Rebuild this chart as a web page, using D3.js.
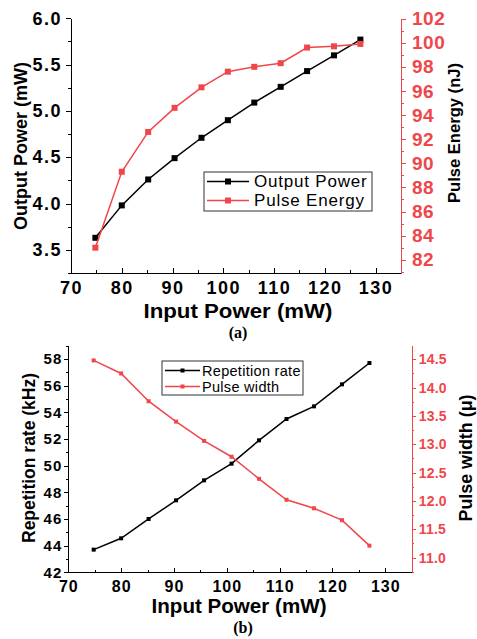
<!DOCTYPE html>
<head>
  <meta charset="utf-8">
  <style>
    body { margin:0; background:#fff; }
    svg { font-family: "Liberation Sans", Arial, sans-serif; }
    .axis path, .axis line { shape-rendering: crispEdges; }
    .tick text { font-weight: bold; }
    .lbl { font-weight: bold; }
  </style>
</head>
<body>
  <script src="https://d3js.org/d3.v7.min.js"></script>
  <script>

    // DATA
    var inputPower = [74.8, 80, 85.2, 90.4, 95.7, 100.9, 106.1, 111.3, 116.5, 121.8, 127];
    var outputPower = [3.63, 3.98, 4.26, 4.49, 4.71, 4.90, 5.09, 5.26, 5.43, 5.60, 5.77];
    var pulseEnergy = [83.0, 89.3, 92.6, 94.6, 96.3, 97.6, 98.0, 98.3, 99.6, 99.7, 99.9];
    var repRate = [43.7, 44.55, 46.0, 47.4, 48.9, 50.15, 51.9, 53.5, 54.45, 56.1, 57.7];
    var pulseWidth = [14.48, 14.25, 13.76, 13.40, 13.06, 12.78, 12.39, 12.02, 11.87, 11.66, 11.21];

    var xTicks = [70, 80, 90, 100, 110, 120, 130];
    var opTicks = [3.5, 4.0, 4.5, 5.0, 5.5, 6.0];
    var peTicks = [82, 84, 86, 88, 90, 92, 94, 96, 98, 100, 102];
    var rrTicks = [42, 44, 46, 48, 50, 52, 54, 56, 58];
    var pwTicks = [11.0, 11.5, 12.0, 12.5, 13.0, 13.5, 14.0, 14.5];

    var RED = "#f0464a";

    var width = 477, height = 639;
    var svg = d3.select("body").append("svg")
      .attr("width", width)
      .attr("height", height);

    // minor tick helper
    function minors(scale, step) {
      var d = scale.domain(), out = [];
      var lo = Math.min(d[0], d[1]), hi = Math.max(d[0], d[1]);
      for (var v = Math.ceil(lo / step) * step; v <= hi + 1e-9; v += step) out.push(+v.toFixed(4));
      return out;
    }

    function panel(p) {
      var g = svg.append("g");
      var x = d3.scaleLinear().domain([70, 135]).range([p.x0, p.x1]);
      var yL = d3.scaleLinear().domain(p.leftDomain).range([p.y0, p.y1]);
      var yR = d3.scaleLinear().domain(p.rightDomain).range([p.y0, p.y1R]);

      // minor ticks
      g.append("g").attr("class", "axis").attr("transform", "translate(0," + p.y0 + ")")
        .call(d3.axisBottom(x).tickValues(minors(x, 5)).tickSize(-p.minor).tickFormat(""))
        .call(s => s.select(".domain").remove());
      g.append("g").attr("class", "axis").attr("transform", "translate(" + p.x0 + ",0)")
        .call(d3.axisLeft(yL).tickValues(minors(yL, p.leftMinor)).tickSize(p.minor).tickFormat(""))
        .call(s => s.select(".domain").remove());
      g.append("g").attr("class", "axis").attr("transform", "translate(" + p.x1 + ",0)")
        .call(d3.axisRight(yR).tickValues(minors(yR, p.rightMinor)).tickSize(p.minor).tickFormat(""))
        .call(s => { s.select(".domain").remove(); s.selectAll("line").attr("stroke", RED); });

      // major axes
      g.append("g").attr("class", "axis").attr("transform", "translate(0," + p.y0 + ")")
        .call(d3.axisBottom(x).tickValues(xTicks).tickSizeInner(-p.major).tickSizeOuter(0).tickPadding(p.xPad))
        .call(s => s.selectAll("text").style("font-size", p.xFont + "px").style("letter-spacing", p.xSpace + "px"))
        .call(s => s.select(".domain").attr("stroke-width", 1.2));
      g.append("g").attr("class", "axis").attr("transform", "translate(" + p.x0 + ",0)")
        .call(d3.axisLeft(yL).tickValues(p.leftTicks).tickSizeInner(p.major).tickSizeOuter(0)
          .tickPadding(p.lPad).tickFormat(d3.format(p.leftFmt)))
        .call(s => s.selectAll("text").style("font-size", p.lFont + "px").style("letter-spacing", p.lSpace + "px"))
        .call(s => s.select(".domain").attr("stroke-width", 1.2));
      g.append("g").attr("class", "axis").attr("transform", "translate(" + p.x1 + ",0)")
        .call(d3.axisRight(yR).tickValues(p.rightTicks).tickSizeInner(p.major).tickSizeOuter(0)
          .tickPadding(p.rPad).tickFormat(d3.format(p.rightFmt)))
        .call(s => {
          s.select(".domain").attr("stroke", RED).attr("stroke-width", 1.2);
          s.selectAll("line").attr("stroke", RED);
          s.selectAll("text").attr("fill", RED).style("font-size", p.rFont + "px").style("letter-spacing", p.rSpace + "px");
        });

      // series
      var lineL = d3.line().x((d, i) => x(inputPower[i])).y(d => yL(d));
      var lineR = d3.line().x((d, i) => x(inputPower[i])).y(d => yR(d));
      g.append("path").datum(p.leftData).attr("d", lineL)
        .attr("fill", "none").attr("stroke", "#000").attr("stroke-width", 1.5);
      g.selectAll(".mL").data(p.leftData).enter().append("rect")
        .attr("x", (d, i) => x(inputPower[i]) - p.ms / 2).attr("y", d => yL(d) - p.ms / 2)
        .attr("width", p.ms).attr("height", p.ms).attr("fill", "#000");
      g.append("path").datum(p.rightData).attr("d", lineR)
        .attr("fill", "none").attr("stroke", RED).attr("stroke-width", 1.5);
      g.selectAll(".mR").data(p.rightData).enter().append("rect")
        .attr("x", (d, i) => x(inputPower[i]) - p.ms / 2).attr("y", d => yR(d) - p.ms / 2)
        .attr("width", p.ms).attr("height", p.ms).attr("fill", RED);

      // axis titles
      g.append("text").attr("class", "lbl").attr("text-anchor", "middle")
        .attr("x", p.xLabel[0]).attr("y", p.xLabel[1]).style("font-size", p.xLabel[2] + "px")
        .attr("textLength", p.xLabel[3]).attr("lengthAdjust", "spacingAndGlyphs")
        .text("Input Power (mW)");
      g.append("text").attr("class", "lbl").attr("text-anchor", "middle")
        .attr("transform", "translate(" + p.lLabel[0] + "," + p.lLabel[1] + ")rotate(-90)")
        .style("font-size", p.lLabel[2] + "px")
        .attr("textLength", p.lLabel[3]).attr("lengthAdjust", "spacingAndGlyphs")
        .text(p.leftTitle);
      g.append("text").attr("class", "lbl").attr("text-anchor", "middle")
        .attr("transform", "translate(" + p.rLabel[0] + "," + p.rLabel[1] + ")rotate(-90)")
        .style("font-size", p.rLabel[2] + "px")
        .attr("textLength", p.rLabel[3]).attr("lengthAdjust", "spacingAndGlyphs")
        .text(p.rightTitle);

      // legend
      var L = p.legend;
      g.append("rect").attr("x", L.x).attr("y", L.y).attr("width", L.w).attr("height", L.h)
        .attr("fill", "#fff").attr("stroke", "#333").attr("stroke-width", 1);
      [[p.leftName, "#000"], [p.rightName, RED]].forEach(function(e, i) {
        var yy = L.y + L.row0 + i * L.rowGap;
        g.append("line").attr("x1", L.x + 3).attr("x2", L.x + 3 + L.lineLen)
          .attr("y1", yy).attr("y2", yy).attr("stroke", e[1]).attr("stroke-width", 1.5);
        g.append("rect").attr("x", L.x + 3 + L.lineLen / 2 - p.ms / 2).attr("y", yy - p.ms / 2)
          .attr("width", p.ms).attr("height", p.ms).attr("fill", e[1]);
        g.append("text").attr("x", L.x + L.textX).attr("y", yy).attr("dy", "0.35em")
          .style("font-size", L.font + "px").style("letter-spacing", L.space + "px").text(e[0]);
      });

      // caption
      g.append("text").attr("x", p.cap[0]).attr("y", p.cap[1]).attr("text-anchor", "middle")
        .style("font-family", "'Liberation Serif', 'Times New Roman', serif")
        .style("font-weight", "bold").style("font-size", "16px").text(p.cap[2]);
    }

    // (a)
    panel({
      x0: 71, x1: 401, y0: 273, y1: 18.3, y1R: 18,
      leftDomain: [3.25, 6.0], rightDomain: [80.9, 102.05],
      leftTicks: opTicks, rightTicks: peTicks, leftFmt: ".1f", rightFmt: "d",
      leftMinor: 0.25, rightMinor: 1, major: 5, minor: 3,
      xPad: 8, xFont: 18, xSpace: 1.5, lPad: 4, lFont: 18, lSpace: 1.5, rPad: 6, rFont: 19, rSpace: 0.5,
      leftData: outputPower, rightData: pulseEnergy, ms: 6,
      xLabel: [238, 318, 20, 189], lLabel: [27, 146, 19, 168], rLabel: [460, 133, 17, 140],
      leftTitle: "Output Power (mW)", rightTitle: "Pulse Energy (nJ)",
      leftName: "Output Power", rightName: "Pulse Energy",
      legend: { x: 204, y: 172, w: 168, h: 39, row0: 9.5, rowGap: 19, lineLen: 42, textX: 50, font: 17, space: 0.8 },
      cap: [238, 338, "(a)"]
    });

    // (b)
    panel({
      x0: 68.3, x1: 411.7, y0: 572.3, y1: 345.7, y1R: 345.7,
      leftDomain: [42, 59], rightDomain: [10.74, 14.74],
      leftTicks: rrTicks, rightTicks: pwTicks, leftFmt: "d", rightFmt: ".1f",
      leftMinor: 1, rightMinor: 0.25, major: 4, minor: 2.5,
      xPad: 8, xFont: 16, xSpace: 1, lPad: 2, lFont: 15, lSpace: 1, rPad: 3, rFont: 14, rSpace: 0.2,
      leftData: repRate, rightData: pulseWidth, ms: 4,
      xLabel: [239, 613, 20, 175], lLabel: [35, 458, 19, 170], rLabel: [472, 458, 18, 127],
      leftTitle: "Repetition rate (kHz)", rightTitle: "Pulse width (\u03bc)",
      leftName: "Repetition rate", rightName: "Pulse width",
      legend: { x: 162, y: 361, w: 141, h: 34, row0: 9.5, rowGap: 16, lineLen: 35, textX: 40, font: 14.5, space: 0.3 },
      cap: [243, 633, "(b)"]
    });

  </script>
</body>
